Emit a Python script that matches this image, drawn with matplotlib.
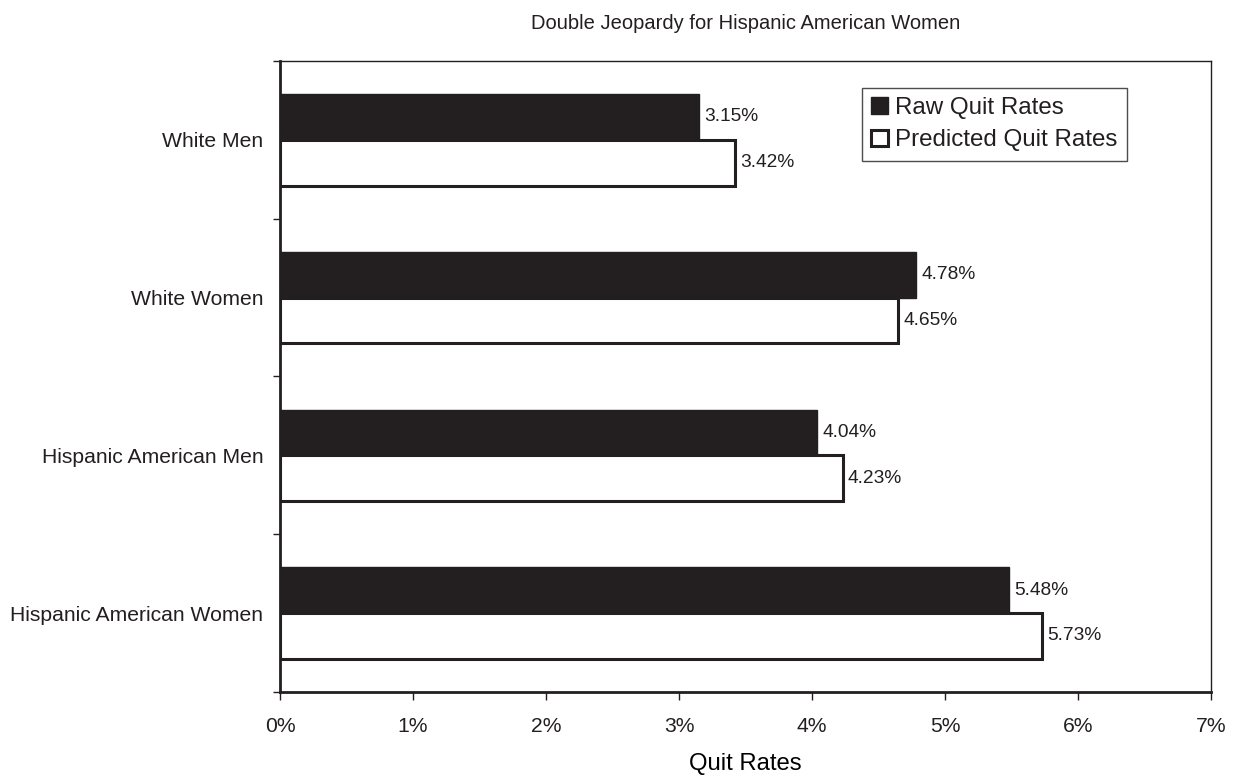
import numpy as np
import matplotlib
matplotlib.use("Agg")
import matplotlib.pyplot as plt
from matplotlib.ticker import FuncFormatter, FixedLocator

plt.rcParams['font.family'] = ['Liberation Sans', 'DejaVu Sans']

groups = ["White Men", "White Women", "Hispanic American Men", "Hispanic American Women"]
raw = [3.15, 4.78, 4.04, 5.48]
predicted = [3.42, 4.65, 4.23, 5.73]
xticks = [0, 1, 2, 3, 4, 5, 6, 7]

dark = '#231f20'
plt.rcParams['text.color'] = dark
plt.rcParams['xtick.labelcolor'] = dark
plt.rcParams['ytick.labelcolor'] = dark

fig = plt.figure(figsize=(12.34, 7.79), dpi=100)
ax = fig.add_axes([0.2269, 0.1117, 0.7544, 0.8100])

y = np.arange(len(groups))
h = 0.29
ax.barh(y - h / 2, raw, height=h, color=dark, edgecolor=dark, linewidth=1.0,
        label='Raw Quit Rates')
ax.barh(y + h / 2, predicted, height=h, color='white', edgecolor=dark, linewidth=2.2,
        label='Predicted Quit Rates')

for yi, v in zip(y - h / 2, raw):
    ax.text(v + 0.04, yi, f"{v:.2f}%", va='center', ha='left', fontsize=13.8)
for yi, v in zip(y + h / 2, predicted):
    ax.text(v + 0.04, yi, f"{v:.2f}%", va='center', ha='left', fontsize=13.8)

ax.set_xlim(0, 7)
ax.set_ylim(len(groups) - 0.5, -0.5)
ax.set_xticks(xticks)
ax.xaxis.set_major_formatter(FuncFormatter(lambda v, p: f"{v:.0f}%"))
ax.set_yticks(y)
ax.set_yticklabels(groups)
ax.tick_params(axis='y', which='major', length=0, pad=12, labelsize=15.2)
ax.yaxis.set_minor_locator(FixedLocator(np.arange(-0.5, len(groups), 1.0)))
ax.tick_params(axis='y', which='minor', length=5, direction='out', width=1, color=dark)
ax.tick_params(axis='x', length=6, direction='out', width=1, labelsize=15.2, pad=12, color=dark)

ax.spines['left'].set_linewidth(2.0)
ax.spines['bottom'].set_linewidth(2.0)
ax.spines['top'].set_linewidth(1.0)
ax.spines['right'].set_linewidth(1.0)
for s in ax.spines.values():
    s.set_color(dark)

ax.set_xlabel("Quit Rates", fontsize=17.2, labelpad=12)
fig.text(0.604, 0.970, "Double Jeopardy for Hispanic American Women", ha='center', va='center',
         fontsize=14.5)

leg = ax.legend(loc='upper right', bbox_to_anchor=(0.9098, 0.957), fontsize=17.4, frameon=True,
                fancybox=False, edgecolor=dark, handlelength=0.7, handleheight=0.7,
                handletextpad=0.3, borderpad=0.38, labelspacing=0.42, borderaxespad=0)
leg.get_frame().set_linewidth(1.0)

fig.savefig("out.png", dpi=100)
